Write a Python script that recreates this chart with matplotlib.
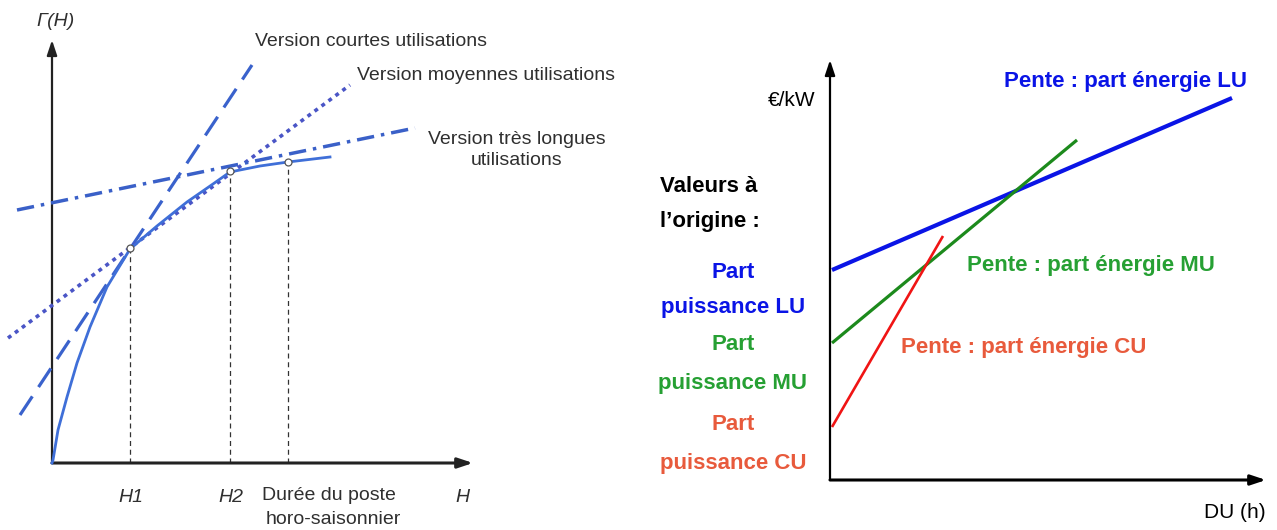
import matplotlib
matplotlib.use("Agg")
import matplotlib.pyplot as plt
from matplotlib import font_manager

# ---- fonts: prefer a narrow sans when available
_names = {f.name for f in font_manager.fontManager.ttflist}
NARROW = "Liberation Sans Narrow" if "Liberation Sans Narrow" in _names else "Liberation Sans"
plt.rcParams["font.family"] = [NARROW, "DejaVu Sans"]

# ---- left panel: cost curve Γ(H) and the three tariff versions
curve_h = [0, 1, 6, 15, 25, 38, 55, 78, 105, 135, 161, 178, 208, 236, 278]
curve_g = [0, 3, 33, 66, 100, 136, 176, 214, 237, 261, 279, 291, 297, 301, 306]

breakpoints_h = [78, 178, 236]
breakpoints_g = [215, 292, 301]
tick_labels = ["H1", "H2"]

cu_h, cu_g = [-32, 200], [48, 398]      # courtes utilisations
mu_h, mu_g = [-44, 298], [125, 378]     # moyennes utilisations
lu_h, lu_g = [-35, 363], [253, 335]     # très longues utilisations

# ---- right panel: linear cost per kW vs duration of use
du_lu, cost_lu = [2, 402], [210, 382]
du_mu, cost_mu = [2, 247], [137, 340]
du_cu, cost_cu = [2, 113], [53, 244]

W, H = 1277, 530
fig = plt.figure(figsize=(W / 100, H / 100), dpi=100)
fig.patch.set_facecolor("white")

# Left axes: data units follow the drawing with origin at the axes corner
axL = fig.add_axes([0, 0, 638.5 / W, 1])
axL.set_xlim(-52, 586.5)
axL.set_ylim(-67, 463)
axL.axis("off")

grey = "#2f2f2f"
axL.annotate("", xy=(0, 423), xytext=(0, 0),
             arrowprops=dict(arrowstyle="-|>,head_length=0.9,head_width=0.3",
                             color="#222222", lw=1.6, shrinkA=0, shrinkB=0))
axL.annotate("", xy=(421, 0), xytext=(0, 0),
             arrowprops=dict(arrowstyle="-|>,head_length=0.9,head_width=0.3",
                             color="#222222", lw=2.2, shrinkA=0, shrinkB=0))

for hx, gy in zip(breakpoints_h, breakpoints_g):
    axL.plot([hx, hx], [0, gy], color="#333333", lw=0.9, dashes=(4, 3), zorder=2)

axL.plot(cu_h, cu_g, color="#3a62cc", lw=2.3, dashes=(7, 3.5), solid_capstyle="butt", zorder=3)
axL.plot(mu_h, mu_g, color="#4a55c6", lw=2.6, dashes=(1.1, 1.3), zorder=3)
axL.plot(lu_h, lu_g, color="#3a60c8", lw=2.5, dashes=(5, 2, 1, 2), zorder=3)
axL.plot(curve_h, curve_g, color="#3f6fd8", lw=2.0, zorder=4)
axL.plot(breakpoints_h, breakpoints_g, "o", ms=5, mfc="white", mec="#555555", mew=0.9, zorder=5)

axL.text(4, 442, "Γ(H)", fontsize=14, style="italic", color=grey, ha="center", va="center")
axL.text(203, 422, "Version courtes utilisations", fontsize=14, color=grey, ha="left", va="center")
axL.text(305, 388, "Version moyennes utilisations", fontsize=14, color=grey, ha="left", va="center")
axL.text(465, 313, "Version très longues\nutilisations", fontsize=14, color=grey,
         ha="center", va="center", linespacing=1.3)
for hx, lab in zip(breakpoints_h, tick_labels):
    axL.text(hx + 1, -34, lab, fontsize=14, style="italic", color=grey, ha="center", va="center")
axL.text(210, -33, "Durée du poste", fontsize=14, color=grey, ha="left", va="center")
axL.text(214, -56, "horo-saisonnier", fontsize=14, color=grey, ha="left", va="center")
axL.text(410, -34, "H", fontsize=14, style="italic", color=grey, ha="center", va="center")

# Right axes
axR = fig.add_axes([638.5 / W, 0, 638.5 / W, 1])
axR.set_xlim(-191.5, 447)
axR.set_ylim(-50, 480)
axR.axis("off")

axR.annotate("", xy=(0, 420), xytext=(0, 0),
             arrowprops=dict(arrowstyle="-|>,head_length=0.9,head_width=0.3",
                             color="black", lw=1.6, shrinkA=0, shrinkB=0))
axR.annotate("", xy=(436, 0), xytext=(0, 0),
             arrowprops=dict(arrowstyle="-|>,head_length=0.9,head_width=0.3",
                             color="black", lw=2.2, shrinkA=0, shrinkB=0))

blue, green_l, green_t, red_l, red_t = "#0a14e6", "#1c8a1c", "#26a033", "#f01414", "#e85a3c"
axR.plot(du_lu, cost_lu, color=blue, lw=3.0, solid_capstyle="butt")
axR.plot(du_mu, cost_mu, color=green_l, lw=2.3, solid_capstyle="butt")
axR.plot(du_cu, cost_cu, color=red_l, lw=1.9, solid_capstyle="butt")

axR.text(-15, 380, "€/kW", fontsize=15, color="black", ha="right", va="center")
axR.text(436, -32, "DU (h)", fontsize=15, color="black", ha="right", va="center")

bold = dict(fontsize=16, fontweight="bold", va="center")
axR.text(295, 398, "Pente : part énergie LU", color=blue, ha="center", **bold)
axR.text(261, 215, "Pente : part énergie MU", color=green_t, ha="center", **bold)
axR.text(194, 132, "Pente : part énergie CU", color=red_t, ha="center", **bold)

axR.text(-170, 293, "Valeurs à", color="black", ha="left", **bold)
axR.text(-170, 258, "l’origine :", color="black", ha="left", **bold)
for y0, label, col in [(208, "Part", blue), (172, "puissance LU", blue),
                       (135, "Part", green_t), (97, "puissance MU", green_t),
                       (55, "Part", red_t), (17, "puissance CU", red_t)]:
    axR.text(-97, y0, label, color=col, ha="center", **bold)

fig.savefig("out.png", dpi=100, facecolor="white")
